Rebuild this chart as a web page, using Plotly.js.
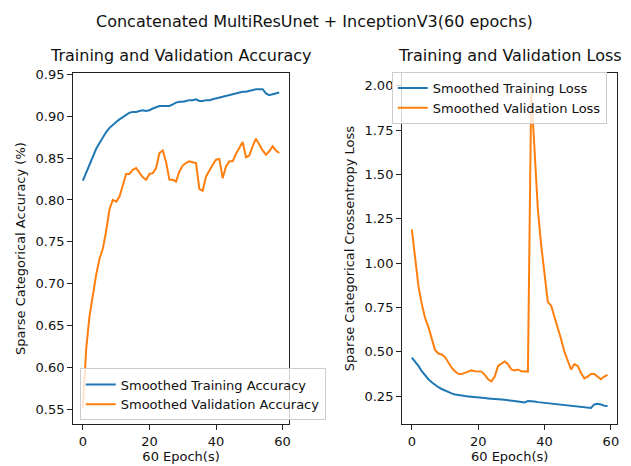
<!DOCTYPE html>
<html>
<head>
<meta charset="utf-8">
<script src="https://cdn.plot.ly/plotly-3.0.1.min.js"></script>
<style>
  html, body { margin: 0; padding: 0; background: #ffffff; }
  #chart { width: 631px; height: 466px; }
</style>
</head>
<body>
<div id="chart"></div>
<script>
// ---- data ----
const epochs = [0,1,2,3,4,5,6,7,8,9,10,11,12,13,14,15,16,17,18,19,
  20,21,22,23,24,25,26,27,28,29,30,31,32,33,34,35,36,37,38,39,
  40,41,42,43,44,45,46,47,48,49,50,51,52,53,54,55,56,57,58,59];

const trainAcc = [0.823,0.833,0.843,0.852,0.861,0.868,0.875,0.881,0.886,0.890,
  0.893,0.896,0.899,0.902,0.904,0.905,0.905,0.906,0.907,0.906,
  0.907,0.909,0.911,0.912,0.912,0.912,0.912,0.914,0.916,0.917,
  0.917,0.918,0.919,0.919,0.920,0.918,0.918,0.919,0.919,0.920,
  0.921,0.922,0.923,0.924,0.925,0.926,0.927,0.928,0.929,0.929,
  0.930,0.931,0.932,0.932,0.932,0.927,0.925,0.926,0.927,0.928];

const valAcc = [0.552,0.623,0.662,0.689,0.711,0.730,0.742,0.763,0.789,0.800,
  0.798,0.804,0.818,0.831,0.831,0.836,0.838,0.832,0.827,0.824,
  0.831,0.832,0.838,0.856,0.859,0.845,0.824,0.824,0.822,0.834,
  0.841,0.844,0.846,0.845,0.844,0.813,0.811,0.828,0.836,0.842,
  0.848,0.849,0.826,0.840,0.846,0.846,0.855,0.862,0.869,0.851,
  0.853,0.864,0.873,0.866,0.859,0.854,0.858,0.864,0.859,0.856];

const trainLoss = [0.467,0.445,0.420,0.390,0.365,0.345,0.328,0.313,0.300,0.290,
  0.281,0.272,0.265,0.259,0.255,0.252,0.250,0.248,0.247,0.245,
  0.244,0.242,0.239,0.237,0.236,0.236,0.235,0.232,0.229,0.227,
  0.226,0.223,0.220,0.217,0.214,0.222,0.222,0.219,0.216,0.214,
  0.212,0.210,0.207,0.205,0.203,0.200,0.198,0.197,0.195,0.193,
  0.191,0.189,0.187,0.185,0.183,0.203,0.207,0.203,0.196,0.194];

const valLoss = [1.19,1.02,0.87,0.77,0.69,0.64,0.58,0.51,0.49,0.485,
  0.47,0.44,0.41,0.39,0.376,0.374,0.38,0.389,0.396,0.39,
  0.39,0.388,0.37,0.345,0.333,0.36,0.42,0.435,0.445,0.43,
  0.40,0.395,0.40,0.39,0.39,0.388,1.97,1.65,1.30,1.10,
  0.93,0.78,0.76,0.70,0.64,0.57,0.50,0.45,0.40,0.43,
  0.42,0.38,0.35,0.36,0.375,0.375,0.36,0.345,0.36,0.37];

const accTickVals = [0.55,0.60,0.65,0.70,0.75,0.80,0.85,0.90,0.95];
const lossTickVals = [0.25,0.50,0.75,1.00,1.25,1.50,1.75,2.00];
const epochTickVals = [0,20,40,60];

const seriesNames = ['Smoothed Training Accuracy','Smoothed Validation Accuracy',
  'Smoothed Training Loss','Smoothed Validation Loss'];
const suptitle = 'Concatenated MultiResUnet + InceptionV3(60 epochs)';
const subTitles = ['Training and Validation Accuracy','Training and Validation Loss'];
const xLabel = '60 Epoch(s)';
const yLabels = ['Sparse Categorical Accuracy (%)','Sparse Categorical Crossentropy Loss'];

// ---- styling ----
const C0 = '#1f77b4', C1 = '#ff7f0e';
const FONT = 'DejaVu Sans, sans-serif';
const W = 631, H = 466;
const yDom = [(H - 423.3) / H, (H - 67.3) / H];

const traces = [
  {x: epochs, y: trainAcc, name: seriesNames[0], type: 'scatter', mode: 'lines',
   line: {color: C0, width: 2}, xaxis: 'x', yaxis: 'y', legend: 'legend'},
  {x: epochs, y: valAcc, name: seriesNames[1], type: 'scatter', mode: 'lines',
   line: {color: C1, width: 2}, xaxis: 'x', yaxis: 'y', legend: 'legend'},
  {x: epochs, y: trainLoss, name: seriesNames[2], type: 'scatter', mode: 'lines',
   line: {color: C0, width: 2}, xaxis: 'x2', yaxis: 'y2', legend: 'legend2'},
  {x: epochs, y: valLoss, name: seriesNames[3], type: 'scatter', mode: 'lines',
   line: {color: C1, width: 2}, xaxis: 'x2', yaxis: 'y2', legend: 'legend2'}
];

function axisCommon() {
  return {
    showline: true, linecolor: '#222', linewidth: 1, mirror: true,
    ticks: 'outside', ticklen: 5, tickwidth: 1, tickcolor: '#222',
    showgrid: false, zeroline: false,
    tickfont: {family: FONT, size: 13, color: '#111'},
    automargin: true
  };
}

const xa = Object.assign(axisCommon(), {
  domain: [73.3 / W, 290 / W], range: [-2.95, 61.95], anchor: 'y',
  tickmode: 'array', tickvals: epochTickVals,
  title: {text: xLabel, font: {family: FONT, size: 13, color: '#111'}, standoff: 3}
});
const xa2 = Object.assign(axisCommon(), {
  domain: [403.3 / W, 619.3 / W], range: [-2.95, 61.95], anchor: 'y2',
  tickmode: 'array', tickvals: epochTickVals,
  title: {text: xLabel, font: {family: FONT, size: 13, color: '#111'}, standoff: 3}
});
const ya = Object.assign(axisCommon(), {
  domain: yDom, range: [0.533, 0.951], anchor: 'x',
  tickmode: 'array', tickvals: accTickVals, tickformat: '.2f',
  title: {text: yLabels[0], font: {family: FONT, size: 13, color: '#111'}, standoff: 6}
});
const ya2 = Object.assign(axisCommon(), {
  domain: yDom, range: [0.093, 2.07], anchor: 'x2',
  tickmode: 'array', tickvals: lossTickVals, tickformat: '.2f',
  title: {text: yLabels[1], font: {family: FONT, size: 13, color: '#111'}, standoff: 6}
});

const legendStyle = {
  bgcolor: 'rgba(255,255,255,0.8)', bordercolor: '#cccccc', borderwidth: 1,
  font: {family: FONT, size: 13, color: '#111'},
  xanchor: 'left', yanchor: 'top', xref: 'paper', yref: 'paper',
  tracegroupgap: 0, itemwidth: 30
};

const layout = {
  width: W, height: H,
  margin: {l: 0, r: 0, t: 0, b: 0, pad: 0},
  paper_bgcolor: '#fff', plot_bgcolor: '#fff',
  font: {family: FONT, color: '#111'},
  xaxis: xa, yaxis: ya, xaxis2: xa2, yaxis2: ya2,
  showlegend: true,
  legend: Object.assign({}, legendStyle, {x: 80 / W, y: (H - 367) / H}),
  legend2: Object.assign({}, legendStyle, {x: 393 / W, y: (H - 66) / H}),
  annotations: [
    {text: suptitle, xref: 'paper', yref: 'paper', x: 0.5, y: (H - 15) / H,
     xanchor: 'center', yanchor: 'middle', showarrow: false,
     font: {family: FONT, size: 16, color: '#111'}},
    {text: subTitles[0], xref: 'x domain', yref: 'y domain', x: 0.5, y: 1,
     xanchor: 'center', yanchor: 'bottom', yshift: 6, showarrow: false,
     font: {family: FONT, size: 16, color: '#111'}},
    {text: subTitles[1], xref: 'x2 domain', yref: 'y2 domain', x: 0.5, y: 1,
     xanchor: 'center', yanchor: 'bottom', yshift: 6, showarrow: false,
     font: {family: FONT, size: 16, color: '#111'}}
  ]
};

Plotly.newPlot('chart', traces, layout, {displayModeBar: false, staticPlot: true});
</script>
</body>
</html>
